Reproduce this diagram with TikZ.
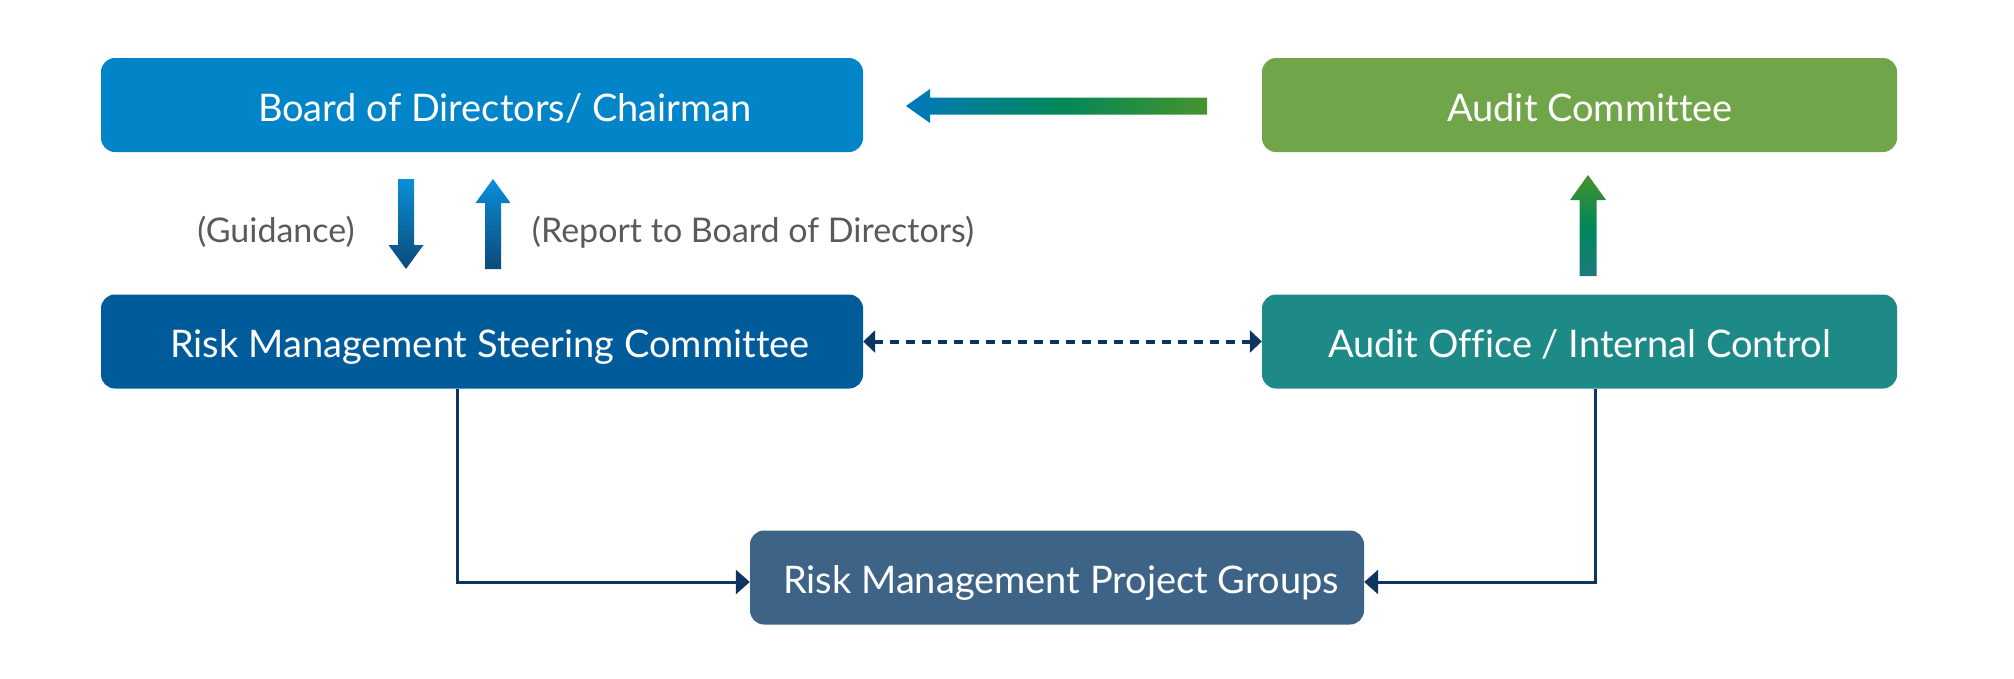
\documentclass[tikz,border=0pt]{standalone}
\usepackage{fontspec}
\setmainfont{Lato}[Ligatures=NoCommon]
\usetikzlibrary{arrows.meta,calc}
\definecolor{boardc}{HTML}{0284C8}
\definecolor{rmscc}{HTML}{005B9A}
\definecolor{auditc}{HTML}{70A54A}
\definecolor{officec}{HTML}{1E8A87}
\definecolor{projc}{HTML}{3D6386}
\definecolor{navyc}{HTML}{0E3560}
\definecolor{labelc}{HTML}{5A5A5A}
\definecolor{lblue}{HTML}{0A8FD8}
\definecolor{dblue}{HTML}{0B4A7A}
\definecolor{agreen}{HTML}{47922C}
\definecolor{mgreen}{HTML}{00875A}
\definecolor{tealc}{HTML}{1E7A7A}
\definecolor{hblue}{HTML}{0079BE}
\newcommand{\boxtxt}[2]{\hspace*{#1pt}\raisebox{-2.5pt}{#2}}
\begin{document}
\begin{tikzpicture}[x=1pt,y=-1pt,
  box/.style={rounded corners=14pt,inner sep=0pt,text=white,
    font=\fontsize{38}{44}\selectfont,minimum height=94pt,
    text height=27pt,text depth=0pt},
  lbl/.style={text=labelc,font=\fontsize{34}{40}\selectfont,inner sep=0pt},
  conn/.style={navyc,line width=3pt,-{Triangle[length=14pt,width=24pt]}},
  dconn/.style={navyc,line width=4pt,dash pattern=on 9pt off 7pt,
    {Triangle[length=12pt,width=22pt]}-{Triangle[length=12pt,width=22pt]}}]
\useasboundingbox (0,0) rectangle (2014,678);
\node[box,fill=boardc,minimum width=762pt] (board) at (482,105) {\boxtxt{46}{Board of Directors/ Chairman}};
\node[box,fill=auditc,minimum width=635pt] (audit) at (1579.5,105) {\boxtxt{21}{Audit Committee}};
\node[box,fill=rmscc,minimum width=762pt] (rmsc) at (482,341.5) {\boxtxt{16}{Risk Management Steering Committee}};
\node[box,fill=officec,minimum width=635pt] (office) at (1579.5,341.5) {\boxtxt{0}{Audit Office / Internal Control}};
\node[box,fill=projc,minimum width=614pt] (proj) at (1057,577.5) {\boxtxt{8}{Risk Management Project Groups}};
\node[lbl] (guid) at (276,232) {(Guidance)};
\node[lbl] (rep) at (753,232) {(Report to Board of Directors)};
% thin connectors
\coordinate (pw) at ($(proj.west)+(0,4.5)$);
\coordinate (pe) at ($(proj.east)+(0,4.5)$);
\draw[conn] ($(rmsc.south west)+(357,0)$) |- (pw);
\draw[conn] ($(office.south west)+(334,0)$) |- (pe);
\draw[dconn] (rmsc.east) -- (office.east -| office.west);
% block arrows
\coordinate (ha) at (906,106);
\shade[left color=hblue,right color=agreen,middle color=mgreen]
  (1207,97.5) -- (930,97.5) -- (930,89) -- (ha) -- (930,123) -- (930,114.5) -- (1207,114.5) -- cycle;
\coordinate (gd) at (406,269);
\shade[top color=lblue,bottom color=dblue]
  (398,179) -- (414,179) -- (414,245) -- (423.5,245) -- (gd) -- (388.5,245) -- (398,245) -- cycle;
\coordinate (ru) at (493,179);
\shade[top color=lblue,bottom color=dblue]
  (485,269) -- (501,269) -- (501,203) -- (510.5,203) -- (ru) -- (475.5,203) -- (485,203) -- cycle;
\coordinate (gu) at (1588,175);
\shade[top color=agreen,bottom color=tealc,middle color=mgreen]
  (1579.5,276) -- (1596.5,276) -- (1596.5,200) -- (1606,200) -- (gu) -- (1570,200) -- (1579.5,200) -- cycle;
\end{tikzpicture}
\end{document}
